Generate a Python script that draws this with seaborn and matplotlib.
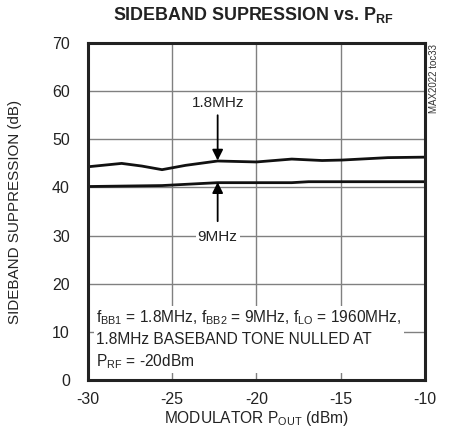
import matplotlib
matplotlib.use("Agg")
import matplotlib.pyplot as plt
import numpy as np
import pandas as pd
import seaborn as sns

# curves
pout_18 = [-30, -28.0, -26.8, -25.6, -24.2, -22.3, -20.0, -17.9, -16.1, -14.9,
           -12.2, -10]
supp_18 = [44.3, 45.0, 44.45, 43.7, 44.6, 45.5, 45.3, 45.9, 45.6, 45.7,
           46.2, 46.3]
pout_9 = [-30, -25.6, -22.3, -20.0, -17.9, -16.9, -13.0, -10]
supp_9 = [40.2, 40.4, 41.0, 41.0, 41.0, 41.2, 41.2, 41.2]

x_ticks = [-30, -25, -20, -15, -10]
y_ticks = [0, 10, 20, 30, 40, 50, 60, 70]

df = pd.concat([
    pd.DataFrame({"pout": pout_18, "supp": supp_18, "tone": "1.8MHz"}),
    pd.DataFrame({"pout": pout_9, "supp": supp_9, "tone": "9MHz"}),
])

sns.set_style("white")
plt.rcParams["font.family"] = ["Liberation Sans", "DejaVu Sans"]
plt.rcParams["mathtext.fontset"] = "custom"
plt.rcParams["mathtext.rm"] = "Liberation Sans"
plt.rcParams["mathtext.bf"] = "Liberation Sans:bold"

fig = plt.figure(figsize=(4.51, 4.41), dpi=100)
ax = fig.add_axes([0.195, 0.138, 0.747, 0.7645])

sns.lineplot(data=df, x="pout", y="supp", units="tone", estimator=None,
             color="#111111", linewidth=2.0, ax=ax, legend=False)

ax.set_xlim(-30, -10)
ax.set_ylim(0, 70)
ax.set_xticks(x_ticks)
ax.set_yticks(y_ticks)
ax.set_xticklabels([str(t) for t in x_ticks])
ax.tick_params(axis="both", length=0, labelsize=11.5, colors="#222222")
ax.tick_params(axis="y", pad=13)
ax.tick_params(axis="x", pad=8.5)
ax.grid(True, color="#808080", linewidth=1.0)
for sp in ax.spines.values():
    sp.set_linewidth(2.2)
    sp.set_color("#222222")

ax.set_xlabel("MODULATOR P$_{\\mathrm{OUT}}$ (dBm)", fontsize=11.2,
              color="#222222")
ax.set_ylabel("SIDEBAND SUPPRESSION (dB)", fontsize=10.9, color="#222222")
ax.xaxis.set_label_coords(0.5, -0.085)
ax.yaxis.set_label_coords(-0.196, 0.5)
fig.suptitle("SIDEBAND SUPRESSION vs. P$_{\\mathbf{RF}}$", fontsize=12.9,
             fontweight="bold", x=0.562, y=0.988, color="#222222")

box = dict(facecolor="white", edgecolor="none", pad=1.5)
ax.annotate("", xy=(-22.3, 45.6), xytext=(-22.3, 55.0),
            arrowprops=dict(arrowstyle="-|>", color="black", lw=1.3,
                            mutation_scale=16, shrinkA=0, shrinkB=0))
ax.text(-22.3, 57.6, "1.8MHz", ha="center", va="center", fontsize=11,
        color="#222222", bbox=box)
ax.annotate("", xy=(-22.3, 41.1), xytext=(-22.3, 33.0),
            arrowprops=dict(arrowstyle="-|>", color="black", lw=1.3,
                            mutation_scale=16, shrinkA=0, shrinkB=0))
ax.text(-22.3, 29.7, "9MHz", ha="center", va="center", fontsize=11,
        color="#222222", bbox=box)

note = ("f$_{\\mathrm{BB1}}$ = 1.8MHz, f$_{\\mathrm{BB2}}$ = 9MHz, "
        "f$_{\\mathrm{LO}}$ = 1960MHz,\n"
        "1.8MHz BASEBAND TONE NULLED AT\n"
        "P$_{\\mathrm{RF}}$ = -20dBm")
ax.text(-29.5, 8.4, note, ha="left", va="center", fontsize=11.2,
        linespacing=1.4, color="#222222", bbox=box)

fig.text(0.962, 0.9, "MAX2022 toc33", rotation=90, ha="center", va="top",
         fontsize=7, color="#333333")

fig.savefig("out.png", dpi=100)
